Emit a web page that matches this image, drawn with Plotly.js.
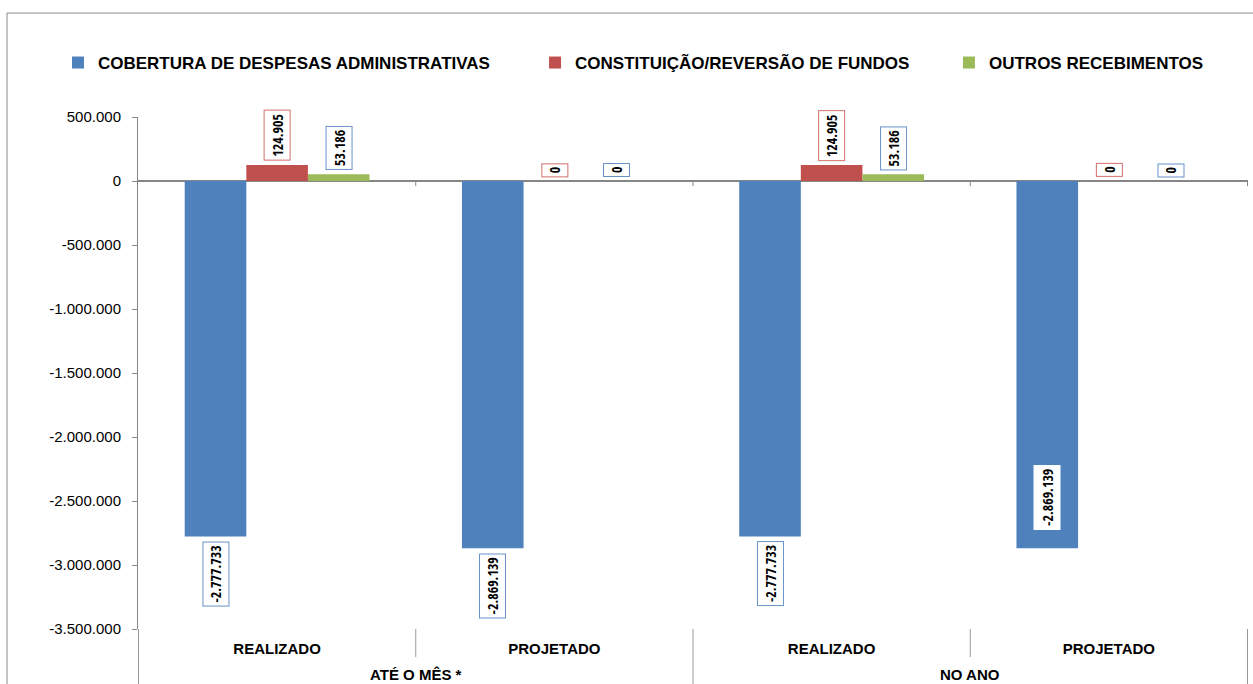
<!DOCTYPE html>
<html>
<head>
<meta charset="utf-8">
<script src="https://cdn.plot.ly/plotly-3.0.1.min.js"></script>
<style>
  html, body { margin: 0; padding: 0; background: #ffffff; }
  #chart { width: 1253px; height: 684px; }
</style>
</head>
<body>
<div id="chart"></div>
<script>
// ---- data ----
const groups = ["ATÉ O MÊS *", "ATÉ O MÊS *", "NO ANO", "NO ANO"];
const periods = ["REALIZADO", "PROJETADO", "REALIZADO", "PROJETADO"];
const seriesNames = ["COBERTURA DE DESPESAS ADMINISTRATIVAS", "CONSTITUIÇÃO/REVERSÃO DE FUNDOS", "OUTROS RECEBIMENTOS"];
const coberturaVals = [-2777733, -2869139, -2777733, -2869139];
const constituicaoVals = [124905, 0, 124905, 0];
const outrosVals = [53186, 0, 53186, 0];
const yTickVals = [500000, 0, -500000, -1000000, -1500000, -2000000, -2500000, -3000000, -3500000];

// ---- styles ----
const barColors = ["#4F81BD", "#C0504D", "#9BBB59"];
const labelBorderColors = ["#6892C8", "#D2706D", "#6892C8"];
const legendX = [-0.0721, 0.3577, 0.7306];
const BARGAP = 1 / 3;
const FONT = '"Liberation Sans", Arial, sans-serif';
const NARROW = '"Open Sans Condensed", "Roboto Condensed", "Liberation Sans", sans-serif';
const GRID = "#9a9a9a";

function fmt(v) {
  const s = Math.abs(Math.round(v)).toString().replace(/\B(?=(\d{3})+(?!\d))/g, ".");
  return (v < 0 ? "-" : "") + s;
}

// unique category keys (group + period) so repeated period names stay distinct
const catKeys = groups.map((g, i) => g + " | " + periods[i]);
const allVals = [coberturaVals, constituicaoVals, outrosVals];
const legendIds = ["legend", "legend2", "legend3"];

const traces = allVals.map((vals, s) => ({
  type: "bar",
  name: seriesNames[s],
  x: catKeys,
  y: vals,
  legend: legendIds[s],
  marker: { color: barColors[s], line: { width: 0 } },
  hoverinfo: "skip"
}));

// ---- data labels (boxed, rotated) ----
const annotations = [];
const nS = allVals.length;
const barW = (1 - BARGAP) / nS;
allVals.forEach((vals, s) => {
  vals.forEach((v, i) => {
    const xpos = i + (s - (nS - 1) / 2) * barW;
    const inside = (s === 0 && i === 3);
    let yanchor, yshift;
    if (v >= 0) { yanchor = "bottom"; yshift = 4; }
    else if (inside) { yanchor = "bottom"; yshift = 18; }
    else { yanchor = "top"; yshift = -5; }
    annotations.push({
      x: xpos, y: v, xref: "x", yref: "y",
      text: fmt(v),
      showarrow: false,
      textangle: -90,
      yanchor: yanchor,
      xanchor: "center",
      yshift: yshift,
      bgcolor: "#ffffff",
      bordercolor: inside ? "#ffffff" : labelBorderColors[s],
      borderwidth: 1,
      borderpad: 3,
      font: { family: NARROW, size: 14, color: "#000000", weight: "bold" }
    });
  });
});

// ---- group labels (second level of the category axis) ----
const uniqueGroups = [...new Set(groups)];
uniqueGroups.forEach(g => {
  const idx = groups.map((gg, i) => gg === g ? i : -1).filter(i => i >= 0);
  const mid = (idx[0] + idx[idx.length - 1]) / 2;
  annotations.push({
    x: mid, y: -0.0898, xref: "x", yref: "paper",
    text: g, showarrow: false, xanchor: "center", yanchor: "middle",
    font: { family: FONT, size: 15, weight: "bold", color: "#000000" }
  });
});

// ---- shapes ----
const shapes = [
  // outer chart border
  { type: "rect", xref: "paper", yref: "paper", x0: -0.118, x1: 1.2, y0: -0.3, y1: 1.203,
    line: { color: "#8c8c8c", width: 1 }, fillcolor: "rgba(0,0,0,0)", layer: "below" }
];
// tick marks on the zero line at category boundaries
for (let k = 1; k <= periods.length; k++) {
  shapes.push({ type: "line", xref: "x", yref: "y", x0: k - 0.5, x1: k - 0.5, y0: 0, y1: -40000,
    line: { color: "#868686", width: 1 } });
}
// dividers in the category label area
for (let k = 0; k <= periods.length; k++) {
  const isGroupEdge = (k === 0 || k === periods.length || groups[k] !== groups[k - 1]);
  shapes.push({ type: "line", xref: "x", yref: "paper", x0: k - 0.5, x1: k - 0.5,
    y0: 0, y1: isGroupEdge ? -0.2 : -0.0547,
    line: { color: GRID, width: 1 } });
}

const legendStyle = (x) => ({
  orientation: "h", x: x, xanchor: "left", y: 1.1055, yanchor: "middle",
  font: { family: FONT, size: 17, weight: "bold", color: "#000000" },
  bgcolor: "rgba(0,0,0,0)"
});

const layout = {
  width: 1253, height: 684,
  margin: { l: 138, r: 5, t: 117, b: 55 },
  paper_bgcolor: "#ffffff", plot_bgcolor: "#ffffff",
  font: { family: FONT, size: 15, color: "#000000" },
  barmode: "group",
  bargap: BARGAP,
  bargroupgap: 0,
  showlegend: true,
  legend: legendStyle(legendX[0]),
  legend2: legendStyle(legendX[1]),
  legend3: legendStyle(legendX[2]),
  xaxis: {
    type: "category",
    tickvals: catKeys, ticktext: periods,
    showline: false, showgrid: false, zeroline: false,
    ticks: "", ticklabelstandoff: 9,
    tickfont: { family: FONT, size: 15, weight: "bold", color: "#000000" },
    fixedrange: true
  },
  yaxis: {
    range: [-3500000, 500000],
    tickvals: yTickVals,
    ticktext: yTickVals.map(fmt),
    showgrid: false,
    zeroline: true, zerolinecolor: "#868686", zerolinewidth: 2,
    showline: true, linecolor: "#868686", linewidth: 1,
    ticks: "outside", ticklen: 5, tickcolor: "#868686",
    ticklabelstandoff: 8,
    tickfont: { family: FONT, size: 15, color: "#000000" },
    fixedrange: true
  },
  annotations: annotations,
  shapes: shapes
};

Plotly.newPlot("chart", traces, layout, { displayModeBar: false, staticPlot: true });
</script>
</body>
</html>
